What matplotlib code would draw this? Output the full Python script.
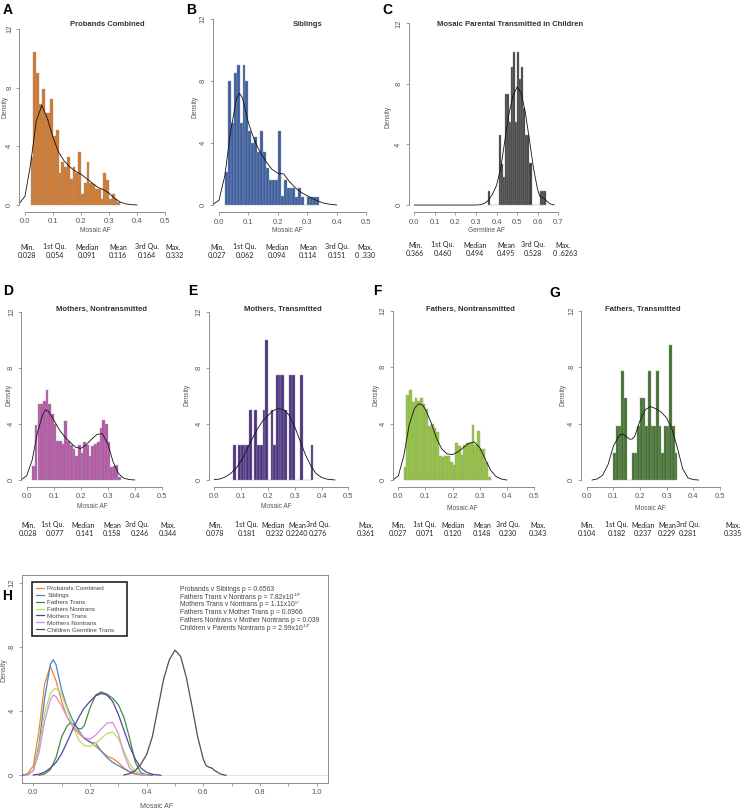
import matplotlib
matplotlib.use("Agg")
import matplotlib.pyplot as plt
import numpy as np

plt.rcParams["font.family"] = ["Liberation Sans", "DejaVu Sans"]

W, H = 741, 811
BIN_W = 0.01

# ---------------------------------------------------------------------------
# Histogram densities (bin width 0.01)
# ---------------------------------------------------------------------------
PROB_START = 0.02
PROB_H = [3.3, 10.4, 9.0, 6.9, 7.9, 6.3, 6.3, 7.2, 4.7, 5.1, 2.2, 2.9, 2.6, 3.3, 1.8, 2.6,
          2.2, 3.6, 0.75, 1.5, 2.9, 1.5, 1.4, 1.1, 1.1, 0.4, 2.2, 1.7, 0.4, 0.75, 0.4, 0.2]

SIB_START = 0.02
SIB_H = [2.1, 8.0, 5.3, 8.5, 9.05, 5.3, 9.05, 8.0, 4.8, 4.0, 4.4, 3.4, 4.8, 3.4, 2.4, 1.6,
         1.6, 1.6, 4.8, 0.6, 1.6, 1.1, 1.1, 1.1, 0.5, 1.1, 0.5, 0.0, 0.5, 0.5, 0.5, 0.5]

CHILD_START = 0.36
CHILD_H = [0.9, 0.0, 0.0, 0.0, 0.0, 4.6, 2.7, 1.85, 7.3, 7.3, 5.5, 9.1, 10.1, 5.5, 10.1, 8.3,
           9.1, 6.4, 4.6, 4.6, 2.75, 0.0, 0.0, 0.0, 0.0, 0.9, 0.9, 0.9]

MNT_START = 0.02
MNT_H = [1.0, 3.9, 5.4, 5.4, 5.6, 6.4, 5.4, 4.7, 4.0, 2.8, 2.8, 2.6, 4.2, 2.8, 2.5, 2.2,
         1.7, 2.5, 1.9, 2.7, 2.5, 1.7, 2.4, 2.6, 2.7, 3.7, 4.3, 4.0, 2.7, 0.9, 1.0, 1.1, 0.2]

MT_START = 0.07
MT_H = [2.5, 0.0, 2.5, 2.5, 2.5, 2.5, 5.0, 0.0, 5.0, 2.5, 2.5, 5.0, 10.0, 0.0, 5.0, 2.5,
        7.5, 7.5, 7.5, 5.0, 0.0, 7.5, 7.5, 0.0, 0.0, 7.5, 0.0, 0.0, 0.0, 2.5]

FNT_START = 0.02
FNT_H = [0.9, 6.0, 6.4, 5.5, 5.8, 5.6, 5.8, 5.4, 5.0, 3.8, 4.0, 3.7, 3.4, 1.7, 1.6, 1.7,
         1.7, 1.3, 1.1, 2.6, 2.4, 1.8, 2.5, 2.6, 2.6, 3.9, 2.5, 3.5, 2.2, 2.2, 1.3, 0.2]

FT_START = 0.10
FT_H = [1.9, 3.85, 3.85, 7.7, 5.8, 0.0, 0.0, 1.9, 1.9, 3.85, 5.8, 5.8, 3.85, 7.7, 3.85,
        3.85, 7.7, 3.85, 1.9, 3.85, 3.85, 9.6, 3.85, 1.9]

# ---------------------------------------------------------------------------
# Density curves (x, density)
# ---------------------------------------------------------------------------
PROB_KX = [-0.04, -0.02, 0.0, 0.02, 0.04, 0.06, 0.08, 0.10, 0.12, 0.14, 0.16, 0.18, 0.20,
           0.22, 0.24, 0.26, 0.28, 0.30, 0.32, 0.34, 0.36, 0.38, 0.40]
PROB_KY = [0.0, 0.1, 0.6, 2.8, 5.7, 6.8, 5.9, 4.6, 3.6, 3.0, 2.6, 2.3, 2.1,
           1.8, 1.5, 1.2, 1.05, 0.8, 0.45, 0.2, 0.07, 0.02, 0.0]

SIB_KX = [-0.04, -0.02, 0.0, 0.02, 0.04, 0.06, 0.07, 0.08, 0.10, 0.12, 0.14, 0.16, 0.18,
          0.20, 0.22, 0.24, 0.26, 0.28, 0.30, 0.32, 0.34, 0.36, 0.38, 0.40]
SIB_KY = [0.0, 0.05, 0.3, 1.9, 4.8, 6.9, 7.2, 6.9, 5.3, 4.2, 3.4, 2.8, 2.3,
          2.05, 2.0, 1.5, 1.1, 0.8, 0.6, 0.4, 0.22, 0.1, 0.04, 0.0]

CHILD_KX = [0.0, 0.30, 0.32, 0.34, 0.36, 0.38, 0.40, 0.42, 0.44, 0.46, 0.48, 0.50, 0.52,
            0.54, 0.56, 0.58, 0.60, 0.61, 0.62, 0.63, 0.64, 0.66, 0.68]
CHILD_KY = [0.0, 0.0, 0.02, 0.1, 0.3, 0.7, 1.3, 2.4, 4.2, 6.0, 7.2, 7.8, 7.4,
            6.1, 4.3, 2.4, 1.0, 0.6, 0.5, 0.45, 0.3, 0.08, 0.0]

MNT_KX = [-0.03, -0.02, 0.0, 0.02, 0.04, 0.06, 0.07, 0.08, 0.10, 0.12, 0.14, 0.16, 0.18,
          0.20, 0.22, 0.24, 0.26, 0.28, 0.30, 0.32, 0.34, 0.36, 0.38, 0.40]
MNT_KY = [0.0, 0.02, 0.3, 1.4, 3.4, 4.7, 5.0, 4.9, 4.3, 3.6, 3.1, 2.7, 2.35,
          2.25, 2.5, 2.9, 3.25, 3.3, 2.6, 1.3, 0.45, 0.12, 0.03, 0.0]

MT_KX = [0.0, 0.02, 0.04, 0.06, 0.08, 0.10, 0.12, 0.14, 0.16, 0.18, 0.20, 0.22, 0.24,
         0.26, 0.28, 0.30, 0.32, 0.34, 0.36, 0.38, 0.40, 0.42, 0.45]
MT_KY = [0.02, 0.07, 0.2, 0.45, 0.8, 1.35, 2.1, 2.9, 3.6, 4.2, 4.6, 4.95, 5.1,
         5.0, 4.6, 3.8, 2.8, 1.8, 1.0, 0.45, 0.18, 0.06, 0.0]

FNT_KX = [-0.02, 0.0, 0.02, 0.04, 0.06, 0.075, 0.09, 0.10, 0.12, 0.14, 0.16, 0.18, 0.20,
          0.22, 0.24, 0.26, 0.28, 0.30, 0.32, 0.34, 0.36, 0.38, 0.40]
FNT_KY = [0.0, 0.3, 1.7, 3.9, 5.1, 5.4, 5.3, 5.0, 4.1, 3.0, 2.2, 1.85, 1.8,
          2.0, 2.3, 2.6, 2.7, 2.3, 1.5, 0.7, 0.25, 0.07, 0.0]

FT_KX = [0.02, 0.04, 0.06, 0.08, 0.10, 0.12, 0.13, 0.14, 0.16, 0.17, 0.18, 0.20, 0.22,
         0.24, 0.26, 0.28, 0.30, 0.32, 0.34, 0.36, 0.38, 0.40, 0.42]
FT_KY = [0.0, 0.08, 0.35, 1.1, 2.4, 3.1, 3.25, 3.2, 2.9, 2.9, 3.1, 4.2, 5.0,
         5.2, 5.05, 4.8, 4.4, 3.6, 2.3, 0.8, 0.15, 0.03, 0.0]

# ---------------------------------------------------------------------------
# Summary statistics under each panel
# ---------------------------------------------------------------------------
STAT_NAMES = ["Min.", "1st Qu.", "Median", "Mean", "3rd Qu.", "Max."]
PROB_STATS = ["0.028", "0.054", "0.091", "0.116", "0.164", "0.332"]
SIB_STATS = ["0.027", "0.062", "0.094", "0.114", "0.151", "0 .330"]
CHILD_STATS = ["0.366", "0.460", "0.494", "0.495", "0.528", "0 .6263"]
MNT_STATS = ["0.028", "0.077", "0.141", "0.158", "0.246", "0.344"]
MT_STATS = ["0.078", "0.181", "0.232", "0.2240", "0.276", "0.361"]
FNT_STATS = ["0.027", "0.071", "0.120", "0.148", "0.230", "0.343"]
FT_STATS = ["0.104", "0.182", "0.237", "0.229", "0.281", "0.335"]

# (main text, superscript exponent or "")
PVAL_LINES = [
    ("Probands v Siblings p = 0.6563", ""),
    ("Fathers Trans v Nontrans p = 7.82x10", "-10*"),
    ("Mothers Trans v Nontrans p = 1.11x10", "-5*"),
    ("Fathers Trans v Mother Trans p = 0.6966", ""),
    ("Fathers Nontrans v Mother Nontrans p = 0.039", ""),
    ("Children v Parents Nontrans p = 2.99x10", "-14*"),
]

# ---------------------------------------------------------------------------
fig = plt.figure(figsize=(W / 100, H / 100), dpi=100)

AXIS_C = "#7a7a7a"
TEXT_C = "#444444"


def px_axes(left, top, right, bottom):
    return fig.add_axes([left / W, 1 - bottom / H, (right - left) / W, (bottom - top) / H])


def ftext(x, y, s, **kw):
    return fig.text(x / W, 1 - y / H, s, **kw)


def hist_panel(rect, xmax, start, heights, color, kx, ky, letter, letter_xy,
               title, title_xy, xlabel, xlabel_xy, dens_xy, stats, stat_y, stat_x, val_x):
    ax = px_axes(*rect)
    edges = start + BIN_W * np.arange(len(heights))
    ax.bar(edges, heights, width=BIN_W, align="edge", color=color,
           edgecolor="#9a9a9a", linewidth=0.3)
    ax.plot(kx, ky, color="#111111", lw=0.6)
    ax.set_xlim(-0.04 * xmax, 1.04 * xmax)
    ax.set_ylim(-0.48, 12.48)
    for s in ("top", "right"):
        ax.spines[s].set_visible(False)
    ax.spines["left"].set_bounds(0, 12)
    ax.spines["bottom"].set_bounds(0, xmax)
    for s in ("left", "bottom"):
        ax.spines[s].set_color(AXIS_C)
        ax.spines[s].set_linewidth(0.6)
    xt = np.round(np.arange(0, xmax + 1e-9, 0.1), 1)
    ax.set_xticks(xt)
    ax.set_xticklabels([f"{v:.1f}" for v in xt])
    ax.set_yticks([0, 4, 8, 12])
    ax.set_yticklabels(["0", "4", "8", "12"], rotation=90, va="center")
    ax.tick_params(labelsize=5.5, length=2.5, width=0.5, color=AXIS_C,
                   labelcolor="#555555", pad=2)
    ax.patch.set_alpha(0)

    ftext(*letter_xy, letter, fontsize=10, fontweight="bold", ha="left", va="center")
    ftext(*title_xy, title, fontsize=5.5, fontweight="bold", color="#333333",
          ha="center", va="center")
    ftext(*xlabel_xy, xlabel, fontsize=4.8, color="#555555", ha="center", va="center")
    ftext(*dens_xy, "Density", fontsize=4.8, color="#555555", rotation=90,
          ha="center", va="center")
    for name, val, cx, vx in zip(STAT_NAMES, stats, stat_x, val_x):
        ftext(cx, stat_y[0] + 2.5, name, fontsize=5.1, family="Lato", color="#222222",
              ha="center", va="baseline")
        ftext(vx, stat_y[1] + 2.5, val, fontsize=5.1, family="Lato", color="#222222",
              ha="center", va="baseline")
    return ax


hist_panel((19.4, 22, 170.6, 212), 0.5, PROB_START, PROB_H, "#D67828", PROB_KX, PROB_KY,
           "A", (3, 10), "Probands Combined", (107, 24), "Mosaic AF", (95, 230), (5, 107),
           PROB_STATS, (247, 255), [27, 55, 87, 118, 147, 173], [27, 55, 87, 118, 147, 175])
hist_panel((213.1, 11.6, 371.9, 212.4), 0.5, SIB_START, SIB_H, "#3A5FA5", SIB_KX, SIB_KY,
           "B", (186, 10), "Siblings", (308, 25), "Mosaic AF", (287, 230), (195, 107),
           SIB_STATS, (247, 255), [217, 245, 277, 308, 337, 365], [217, 245, 277, 308, 337, 365])
hist_panel((408.5, 16, 564, 212.3), 0.7, CHILD_START, CHILD_H, "#3C3C3C", CHILD_KX, CHILD_KY,
           "C", (382, 10), "Mosaic Parental Transmitted in Children", (510, 24),
           "Germline AF", (487, 230), (388, 117),
           CHILD_STATS, (245, 254), [415, 443, 475, 506, 533, 563], [415, 443, 475, 506, 533, 565])
hist_panel((21.3, 305, 167.1, 486.7), 0.5, MNT_START, MNT_H, "#B955AA", MNT_KX, MNT_KY,
           "D", (3, 291), "Mothers, Nontransmitted", (102, 309), "Mosaic AF", (92, 507), (9, 395),
           MNT_STATS, (525, 533), [28, 53, 83, 112, 137, 168], [28, 55, 85, 112, 140, 168])
hist_panel((208.9, 305, 353.7, 486.7), 0.5, MT_START, MT_H, "#4B3287", MT_KX, MT_KY,
           "E", (188, 291), "Mothers, Transmitted", (283, 309), "Mosaic AF", (276, 507), (187, 395),
           MT_STATS, (525, 533), [215, 247, 273, 297, 318, 366], [215, 247, 275, 297, 318, 366])
hist_panel((392.9, 303.9, 539.4, 486.8), 0.5, FNT_START, FNT_H, "#96C83C", FNT_KX, FNT_KY,
           "F", (373, 291), "Fathers, Nontransmitted", (470, 309), "Mosaic AF", (462, 508), (376, 395),
           FNT_STATS, (525, 533), [398, 425, 453, 482, 508, 538], [398, 425, 453, 482, 508, 538])
hist_panel((581.4, 303.9, 725.3, 486.8), 0.5, FT_START, FT_H, "#41732D", FT_KX, FT_KY,
           "G", (549, 293), "Fathers, Transmitted", (643, 309), "Mosaic AF", (650, 508), (563, 395),
           FT_STATS, (525, 533), [587, 617, 643, 667, 688, 733], [587, 617, 643, 667, 688, 733])

# ---------------------------------------------------------------------------
# Panel H: overlaid densities
# ---------------------------------------------------------------------------
axh = px_axes(22, 575, 328, 783)
axh.axhline(0, color="#dddddd", lw=0.6, zorder=0)
curves = [
    ("Probands Combined", PROB_KX, PROB_KY, "#F0882A"),
    ("Siblings", SIB_KX, SIB_KY, "#4F7FD0"),
    ("Fathers Trans", FT_KX, FT_KY, "#3E8E3E"),
    ("Fathers Nontrans", FNT_KX, FNT_KY, "#B5E05A"),
    ("Mothers Trans", MT_KX, MT_KY, "#5B3DAA"),
    ("Mothers Nontrans", MNT_KX, MNT_KY, "#D98ED8"),
    ("Children Germline Trans", CHILD_KX[2:], CHILD_KY[2:], "#505050"),
]
for label, kx, ky, col in curves:
    axh.plot(kx, ky, color=col, lw=0.9, label=label)
axh.set_xlim(-0.04, 1.04)
axh.set_ylim(-0.48, 12.48)
axh.set_xticks(np.round(np.arange(0, 1.01, 0.2), 1))
axh.set_xticklabels([f"{v:.1f}" for v in np.arange(0, 1.01, 0.2)])
axh.set_xticks(np.round(np.arange(0.1, 1.0, 0.2), 1), minor=True)
axh.set_yticks([0, 4, 8, 12])
axh.set_yticklabels(["0", "4", "8", "12"], rotation=90, va="center")
axh.tick_params(labelsize=5.5, length=2.5, width=0.5, color=AXIS_C, labelcolor="#555555", pad=2)
axh.tick_params(which="minor", length=2.5, width=0.5, color=AXIS_C)
for s in axh.spines.values():
    s.set_color(AXIS_C)
    s.set_linewidth(0.6)
leg = axh.legend(loc="upper left", bbox_to_anchor=(0.033, 0.966, 0.31, 0.0), mode="expand",
                 borderaxespad=0, fontsize=4.5, handlelength=1.4, handletextpad=0.5,
                 labelspacing=0.25, borderpad=0.55, fancybox=False, framealpha=1)
leg.get_frame().set_edgecolor("#222222")
leg.get_frame().set_linewidth(1.2)
for t in leg.get_texts():
    t.set_color(TEXT_C)

renderer = fig.canvas.get_renderer()
for i, (main, sup) in enumerate(PVAL_LINES):
    y = 591 + 7.7 * i
    t = ftext(180, y, main, fontsize=4.9, color=TEXT_C, ha="left", va="baseline")
    if sup:
        x1 = t.get_window_extent(renderer=renderer).x1
        fig.text(x1 / W + 0.4 / W, 1 - (y - 2.6) / H, sup, fontsize=3.1, color=TEXT_C,
                 ha="left", va="baseline")

ftext(2, 596, "H", fontsize=10, fontweight="bold", ha="left", va="center")
ftext(4, 670, "Density", fontsize=5, color="#555555", rotation=90, ha="center", va="center")
ftext(157, 806, "Mosaic AF", fontsize=5, color="#555555", ha="center", va="center")

fig.savefig("out.png", dpi=100)
